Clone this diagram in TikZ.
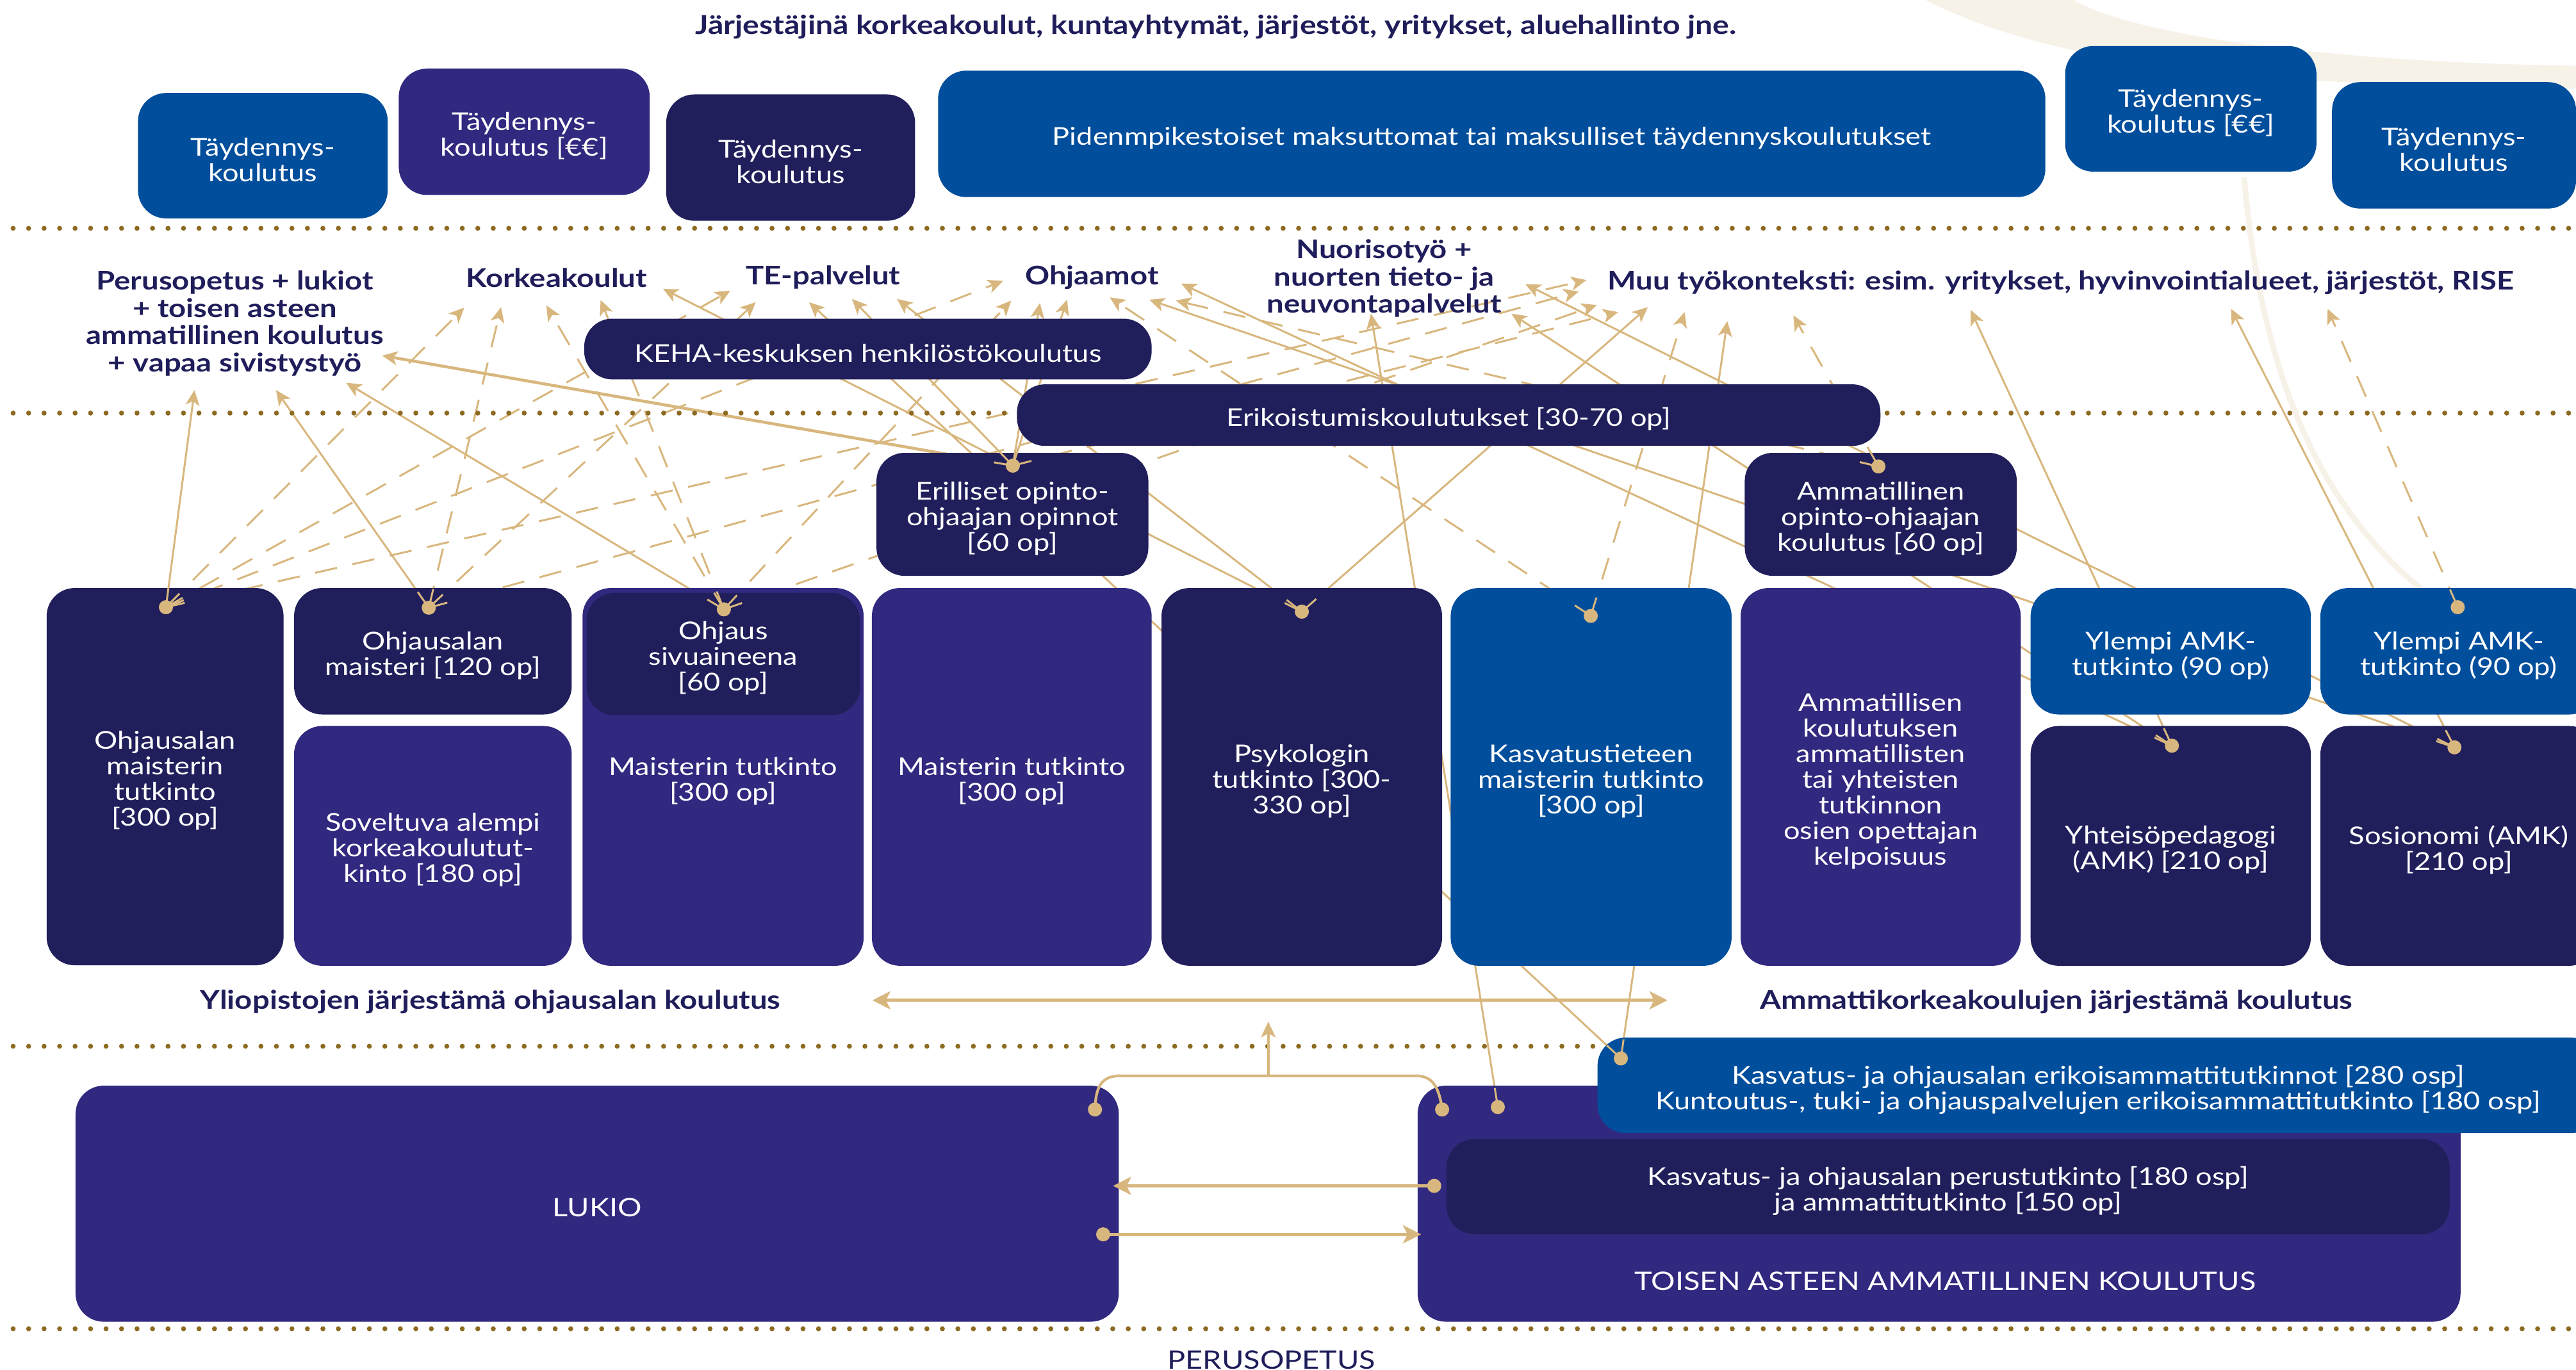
\documentclass[tikz,border=0pt]{standalone}
\usepackage{fontspec}
\setmainfont{Lato}[FakeStretch=1.18]
\usetikzlibrary{arrows.meta,calc}
\definecolor{navy}{HTML}{211F5B}
\definecolor{purp}{HTML}{31287F}
\definecolor{blu}{HTML}{004E9C}
\definecolor{gold}{HTML}{D8B77E}
\definecolor{dotc}{HTML}{8D6A21}
\definecolor{tnavy}{HTML}{1F1D5A}
\definecolor{faint}{HTML}{F7F2E8}
\pgfdeclarelayer{bg}
\pgfdeclarelayer{fg}
\pgfsetlayers{bg,main,fg}
\newcommand\bodyfs{\fontsize{10.9}{11.4}\selectfont}
\newcommand\headfs{\bfseries\fontsize{11.4}{12.1}\selectfont}
\newcommand\topfs{\bfseries\fontsize{11.6}{12.1}\selectfont}
\newcommand\myconn[3]{%
  \begin{pgfonlayer}{bg}\draw[#1] (#2) -- (#3);\end{pgfonlayer}%
  \begin{pgfonlayer}{fg}\draw[stub] (#2) -- ($(#2)!0.3cm!(#3)$);\end{pgfonlayer}}
% box: name, fill, x1, y1, x2, y2, text
\newcommand\mybox[7]{%
  \pgfmathsetmacro\mybw{(#5-#3)*0.025644}%
  \pgfmathsetmacro\mybh{(#6-#4)*0.025644}%
  \node[box, fill=#2, minimum width=\mybw cm, minimum height=\mybh cm] (#1) at ({(#3+#5)/2},{(#4+#6)/2}) {};
  \node[boxtext] (#1-t) at ($(#1.center)+(0,2.5)$) {#7};}
\tikzset{
  box/.style={rectangle, rounded corners=0.44cm, inner sep=0pt},
  boxtext/.style={text=white, align=center, font=\bodyfs, inner sep=0pt},
  lbl/.style={text=tnavy, font=\headfs, align=center, inner sep=0pt},
  dotline/.style={dotc, line width=2.2pt, line cap=round, dash pattern=on 0pt off 6.88pt},
  sol/.style={draw=gold, line width=0.85pt, -{Stealth[length=6.8pt,width=6.2pt,inset=1.8pt]}},
  dsh/.style={sol, dash pattern=on 10pt off 7pt},
  solb/.style={sol, line width=1.3pt},
  stub/.style={draw=gold, line width=0.85pt},
  bigarr/.style={draw=gold, line width=1.5pt},
  srcdot/.style={fill=gold}
}
\begin{document}
\begin{tikzpicture}[x=0.025644cm, y=-0.025644cm]
\useasboundingbox (0,0) rectangle (1568,834);
% faint decoration
\fill[faint] (1172,0) .. controls (1260,45) and (1400,52) .. (1568,54) -- (1568,40) .. controls (1420,38) and (1300,22) .. (1262,0) -- cycle;
\draw[faint, line width=2.5pt] (1366,108) .. controls (1378,250) and (1425,320) .. (1478,362);
% dotted separators
\draw[dotline] (8,139) -- (1568,139);
\draw[dotline] (8,251.5) -- (1568,251.5);
\draw[dotline] (8,637) -- (1568,637);
\draw[dotline] (8,809) -- (1568,809);

% heading
\node[lbl, font=\topfs] (head) at (740,16.5) {Järjestäjinä korkeakoulut, kuntayhtymät, järjestöt, yritykset, aluehallinto jne.};

% top boxes
\mybox{t1}{blu}{84}{56.6}{236}{133}{Täydennys-\\koulutus}
\mybox{t2}{purp}{242.7}{41.8}{395.5}{118.7}{Täydennys-\\koulutus [€€]}
\mybox{t3}{navy}{405.5}{57.5}{557}{134.4}{Täydennys-\\koulutus}
\mybox{t4}{blu}{571}{43}{1245}{120}{Pidenmpikestoiset maksuttomat tai maksulliset täydennyskoulutukset}
\mybox{t5}{blu}{1257}{28}{1410}{104.5}{Täydennys-\\koulutus [€€]}
\mybox{t6}{blu}{1419.5}{50}{1568}{127}{Täydennys-\\koulutus}

% work context labels
\node[lbl] (lperus) at (143,197) {Perusopetus + lukiot\\+ toisen asteen\\ammatillinen koulutus\\+ vapaa sivistystyö};
\node[lbl] (lkork) at (338.7,169) {Korkeakoulut};
\node[lbl] (lte) at (501,169) {TE-palvelut};
\node[lbl] (lohj) at (664.6,169) {Ohjaamot};
\node[lbl] (lnuor) at (842.5,169.5) {Nuorisotyö +\\nuorten tieto- ja\\neuvontapalvelut};
\node[lbl] (lmuu) at (1254.5,172) {Muu työkonteksti: esim. yritykset, hyvinvointialueet, järjestöt, RISE};

% middle boxes
\mybox{keha}{navy}{355.6}{194}{701}{231}{KEHA-keskuksen henkilöstökoulutus}
\mybox{erik}{navy}{619}{234}{1144.6}{271.5}{Erikoistumiskoulutukset [30-70 op]}
\mybox{eril}{navy}{533.5}{275.7}{699}{350.6}{Erilliset opinto-\\ohjaajan opinnot\\{}[60 op]}
\mybox{amop}{navy}{1062}{275.7}{1227.6}{350.6}{Ammatillinen\\opinto-ohjaajan\\koulutus [60 op]}

% degree boxes
\mybox{ba}{navy}{28.4}{358}{172.6}{587.7}{Ohjausalan\\maisterin\\tutkinto\\{}[300 op]}
\mybox{bb1}{navy}{179}{358}{348}{435}{Ohjausalan\\maisteri [120 op]}
\mybox{bb2}{purp}{179}{442}{348}{588}{Soveltuva alempi\\korkeakoulutut-\\kinto [180 op]}
\mybox{bc}{purp}{354.6}{358}{525.7}{588}{Maisterin tutkinto\\{}[300 op]}
\mybox{bc1}{navy}{357}{361}{523.5}{435.4}{Ohjaus\\sivuaineena\\{}[60 op]}
\mybox{bd}{purp}{530.7}{358}{701}{588}{Maisterin tutkinto\\{}[300 op]}
\mybox{be}{navy}{707}{358}{877.8}{588}{Psykologin\\tutkinto [300-\\330 op]}
\mybox{bf}{blu}{883}{358}{1054}{588}{Kasvatustieteen\\maisterin tutkinto\\{}[300 op]}
\mybox{bg}{purp}{1059.5}{358}{1230}{588}{Ammatillisen\\koulutuksen\\ammatillisten\\tai yhteisten\\tutkinnon\\osien opettajan\\kelpoisuus}
\mybox{bh1}{blu}{1236}{358}{1406.6}{435}{Ylempi AMK-\\tutkinto (90 op)}
\mybox{bh2}{navy}{1236}{442}{1406.6}{588}{Yhteisöpedagogi\\(AMK) [210 op]}
\mybox{bi1}{blu}{1412.4}{358}{1581}{435}{Ylempi AMK-\\tutkinto (90 op)}
\mybox{bi2}{navy}{1412.4}{442}{1581}{588}{Sosionomi (AMK)\\{}[210 op]}

% section labels
\node[lbl] (lylio) at (298.5,610) {Yliopistojen järjestämä ohjausalan koulutus};
\node[lbl] (lamk) at (1251.7,610) {Ammattikorkeakoulujen järjestämä koulutus};

% bottom boxes
\mybox{lukio}{purp}{46}{661}{681}{804.7}{\fontsize{11.3}{12}\selectfont LUKIO}
\mybox{toisen}{purp}{862.9}{661}{1497.7}{804.7}{}
\mybox{perust}{navy}{880.5}{693.4}{1491}{751.5}{Kasvatus- ja ohjausalan perustutkinto [180 osp]\\ja ammattitutkinto [150 op]}
\mybox{keam}{blu}{972.4}{631.7}{1582}{689.9}{Kasvatus- ja ohjausalan erikoisammattitutkinnot [280 osp]\\Kuntoutus-, tuki- ja ohjauspalvelujen erikoisammattitutkinto [180 osp]}
\node[text=white, font=\fontsize{11.3}{12}\selectfont, inner sep=0pt] (toisent) at (1184,780) {TOISEN ASTEEN AMMATILLINEN KOULUTUS};
\node[text=tnavy, font=\fontsize{11.3}{12}\selectfont, inner sep=0pt] (perusop) at (774,828) {PERUSOPETUS};

% source points
\coordinate (A) at (101,369.7);
\coordinate (B) at (261,370);
\coordinate (C) at (440.6,371);
\coordinate (E) at (616.5,283.5);
\coordinate (P) at (792.4,372.4);
\coordinate (K) at (968.3,375);
\coordinate (AO) at (1143.4,284);
\coordinate (Y1) at (1322,454);
\coordinate (Y2) at (1494,455);
\coordinate (YL) at (1496,369.7);
\coordinate (T) at (911.7,674);
\coordinate (KE) at (986.6,644.4);
% arrow tips
\coordinate (pA) at (118.4,237.5);
\coordinate (pB) at (168,237.5);
\coordinate (pC) at (210.7,233);
\coordinate (pE) at (232.6,216.5);
\coordinate (k1) at (282.6,187.3);
\coordinate (k2) at (305,187);
\coordinate (k3) at (332.6,186);
\coordinate (k4) at (365.6,182.6);
\coordinate (k5) at (403.5,175.8);
\coordinate (tt1) at (444.5,177);
\coordinate (tt2) at (460,184);
\coordinate (tt3) at (492.5,184);
\coordinate (tt4) at (518.6,182);
\coordinate (tt5) at (546,182);
\coordinate (o1) at (610.6,171);
\coordinate (o2) at (615.5,183);
\coordinate (o3) at (633,184.5);
\coordinate (o4) at (649.5,182.5);
\coordinate (o5) at (675.5,181);
\coordinate (o6) at (699.6,182.5);
\coordinate (o7) at (715.7,183);
\coordinate (o8) at (719,172.7);
\coordinate (n1) at (834.5,191);
\coordinate (n2) at (920,191);
\coordinate (n3) at (928.5,173);
\coordinate (m1) at (965.6,170.5);
\coordinate (m2) at (961,177.5);
\coordinate (m3) at (972,185.7);
\coordinate (m4) at (985,190);
\coordinate (m5) at (1003,187);
\coordinate (m6) at (1025.4,190);
\coordinate (m7) at (1051.4,195.5);
\coordinate (m8) at (1091.6,192);
\coordinate (m9) at (1199.5,188.7);
\coordinate (m10) at (1358,188);
\coordinate (m11) at (1416.8,188);

% connectors
\myconn{sol}{A}{pA}
\myconn{sol}{B}{pB}
\myconn{sol}{C}{pC}
\myconn{solb}{E}{pE}
\myconn{dsh}{A}{k1}
\myconn{dsh}{B}{k2}
\myconn{dsh}{C}{k3}
\myconn{dsh}{C}{k4}
\myconn{sol}{P}{k5}
\myconn{dsh}{A}{tt1}
\myconn{dsh}{B}{tt2}
\myconn{sol}{KE}{tt3}
\myconn{sol}{E}{tt4}
\myconn{sol}{P}{tt5}
\myconn{dsh}{A}{o1}
\myconn{dsh}{C}{o2}
\myconn{sol}{E}{o3}
\myconn{sol}{E}{o4}
\myconn{dsh}{K}{o5}
\myconn{sol}{Y2}{o6}
\myconn{dsh}{AO}{o7}
\myconn{sol}{Y1}{o8}
\myconn{sol}{T}{n1}
\myconn{sol}{Y1}{n2}
\myconn{sol}{Y2}{n3}
\myconn{dsh}{A}{m1}
\myconn{dsh}{B}{m2}
\myconn{dsh}{C}{m3}
\myconn{dsh}{E}{m4}
\myconn{sol}{P}{m5}
\myconn{dsh}{K}{m6}
\myconn{sol}{KE}{m7}
\myconn{dsh}{AO}{m8}
\myconn{sol}{Y1}{m9}
\myconn{sol}{Y2}{m10}
\myconn{dsh}{YL}{m11}

% bottom connectors
\coordinate (L1) at (666.5,675.5);
\coordinate (L2) at (671.5,751.5);
\coordinate (T2) at (877.8,675.5);
\coordinate (PT) at (873,722);
\coordinate (brk) at (772,655);
\coordinate (up) at (772,622);
\coordinate (lukR) at (677.5,722);
\coordinate (toiL) at (865,751.5);
\coordinate (ya) at (531,609);
\coordinate (yb) at (1015,609);
\begin{pgfonlayer}{fg}
\draw[bigarr, {Stealth[length=8pt,width=8pt,inset=2pt]}-{Stealth[length=8pt,width=8pt,inset=2pt]}] (ya) -- (yb);
\draw[draw=gold, line width=1.2pt] (L1) .. controls (667,662) and (670,655) .. (682,655) -- (862,655) .. controls (872,655) and (876,662) .. (T2);
\draw[draw=gold, line width=1pt, -{Stealth[length=7pt,width=6.5pt,inset=1.8pt]}] (brk) -- (up);
\draw[bigarr, -{Stealth[length=8pt,width=8pt,inset=2pt]}] (PT) -- (lukR);
\draw[bigarr, -{Stealth[length=8pt,width=8pt,inset=2pt]}] (L2) -- (toiL);
\foreach \s in {A,B,C,E,P,K,AO,Y1,Y2,YL,T,KE,L1,L2,T2,PT}
  \fill[srcdot] (\s) circle (0.11cm);
\end{pgfonlayer}
\end{tikzpicture}
\end{document}
